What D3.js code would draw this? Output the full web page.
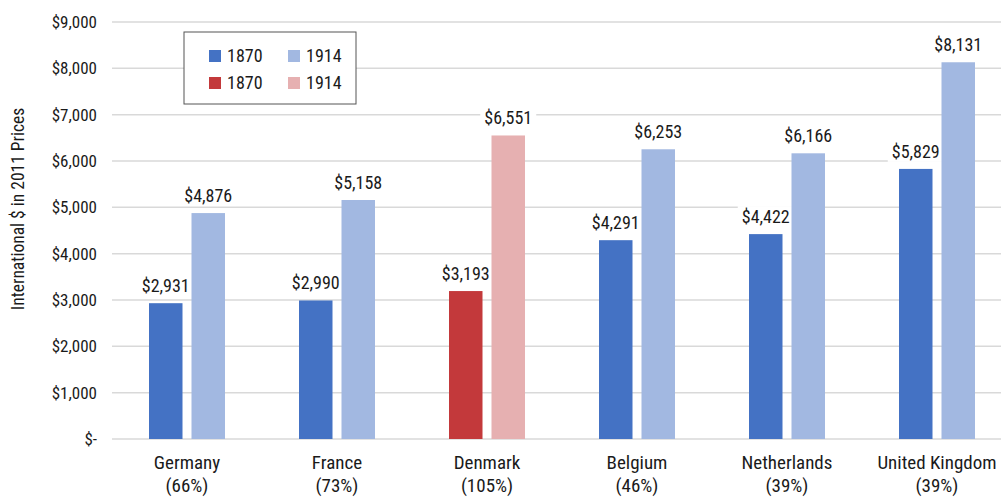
<!DOCTYPE html>
<html><head><meta charset="utf-8">
<script src="https://cdn.jsdelivr.net/npm/d3@7"></script>
<style>
body{margin:0;background:#fff;}
text{font-family:"Roboto Condensed","Liberation Sans Narrow",Roboto,sans-serif;fill:#1a1a1a;}
</style></head><body>
<svg id="c" width="1001" height="497"></svg>
<script>
const countries = ["Germany","France","Denmark","Belgium","Netherlands","United Kingdom"];
const growth = ["(66%)","(73%)","(105%)","(46%)","(39%)","(39%)"];
const years = ["1870","1914"];
const v1870 = [2931,2990,3193,4291,4422,5829];
const v1914 = [4876,5158,6551,6253,6166,8131];
const yTicks = [0,1000,2000,3000,4000,5000,6000,7000,8000,9000];
const yTitle = "International $ in 2011 Prices";

const blue = ["#4472C4","#A2B8E1"], red = ["#C3393B","#E6B0B1"];
const svg = d3.select("#c");
const x = d3.scaleBand().domain(countries).range([112,1012]).paddingInner(0).paddingOuter(0);
const y = d3.scaleLinear().domain([0,9000]).range([439,22]);
const fmt = d => d===0 ? "$-" : "$"+d3.format(",")(d);

// gridlines
svg.append("g").selectAll("line").data(yTicks).join("line")
 .attr("x1",112).attr("x2",1001).attr("y1",d=>y(d)).attr("y2",d=>y(d))
 .attr("stroke","#d9d9d9").attr("stroke-width",1.5);
// tick labels
svg.append("g").selectAll("text").data(yTicks).join("text")
 .attr("x",97).attr("y",d=>y(d)).attr("dy","0.35em").attr("text-anchor","end")
 .style("font-size","17px").text(fmt);
svg.append("text").attr("transform","translate(24,209) rotate(-90)").attr("text-anchor","middle")
 .style("font-size","17.5px").text(yTitle);

const bw = 33.5, gap = 9;
const series = [v1870, v1914];
countries.forEach((c,i)=>{
  const cx = x(c)+x.bandwidth()/2;
  const cols = c==="Denmark" ? red : blue;
  series.forEach((vals,j)=>{
    const bx = j===0 ? cx-gap/2-bw : cx+gap/2;
    const v = vals[i];
    svg.append("rect").attr("x",bx).attr("y",y(v)).attr("width",bw).attr("height",y(0)-y(v)).attr("fill",cols[j]);
    const g = svg.append("g");
    const bg = g.append("rect").attr("fill","#fff");
    const t = g.append("text").attr("x",bx+bw/2).attr("y",y(v)-11).attr("text-anchor","middle")
      .style("font-size","18px").text(fmt(v));
    const bb = t.node().getBBox();
    bg.attr("x",bb.x-4).attr("y",bb.y).attr("width",bb.width+8).attr("height",bb.height);
  });
  svg.append("text").attr("x",cx).attr("y",469).attr("text-anchor","middle").style("font-size","19px").text(c);
  svg.append("text").attr("x",cx).attr("y",491.5).attr("text-anchor","middle").style("font-size","19px").text(growth[i]);
});

// legend
const lg = svg.append("g");
lg.append("rect").attr("x",184).attr("y",32).attr("width",172).attr("height",72).attr("fill","#fff").attr("stroke","#555").attr("stroke-width",1);
const items = [[blue[0],years[0],0,0],[blue[1],years[1],1,0],[red[0],years[0],0,1],[red[1],years[1],1,1]];
items.forEach(([col,lab,cxi,ryi])=>{
  const lx = 209 + cxi*79, ly = 56 + ryi*27;
  lg.append("rect").attr("x",lx).attr("y",ly-6).attr("width",12).attr("height",12).attr("fill",col);
  lg.append("text").attr("x",lx+18).attr("y",ly).attr("dy","0.35em").style("font-size","18px").text(lab);
});
</script></body></html>
